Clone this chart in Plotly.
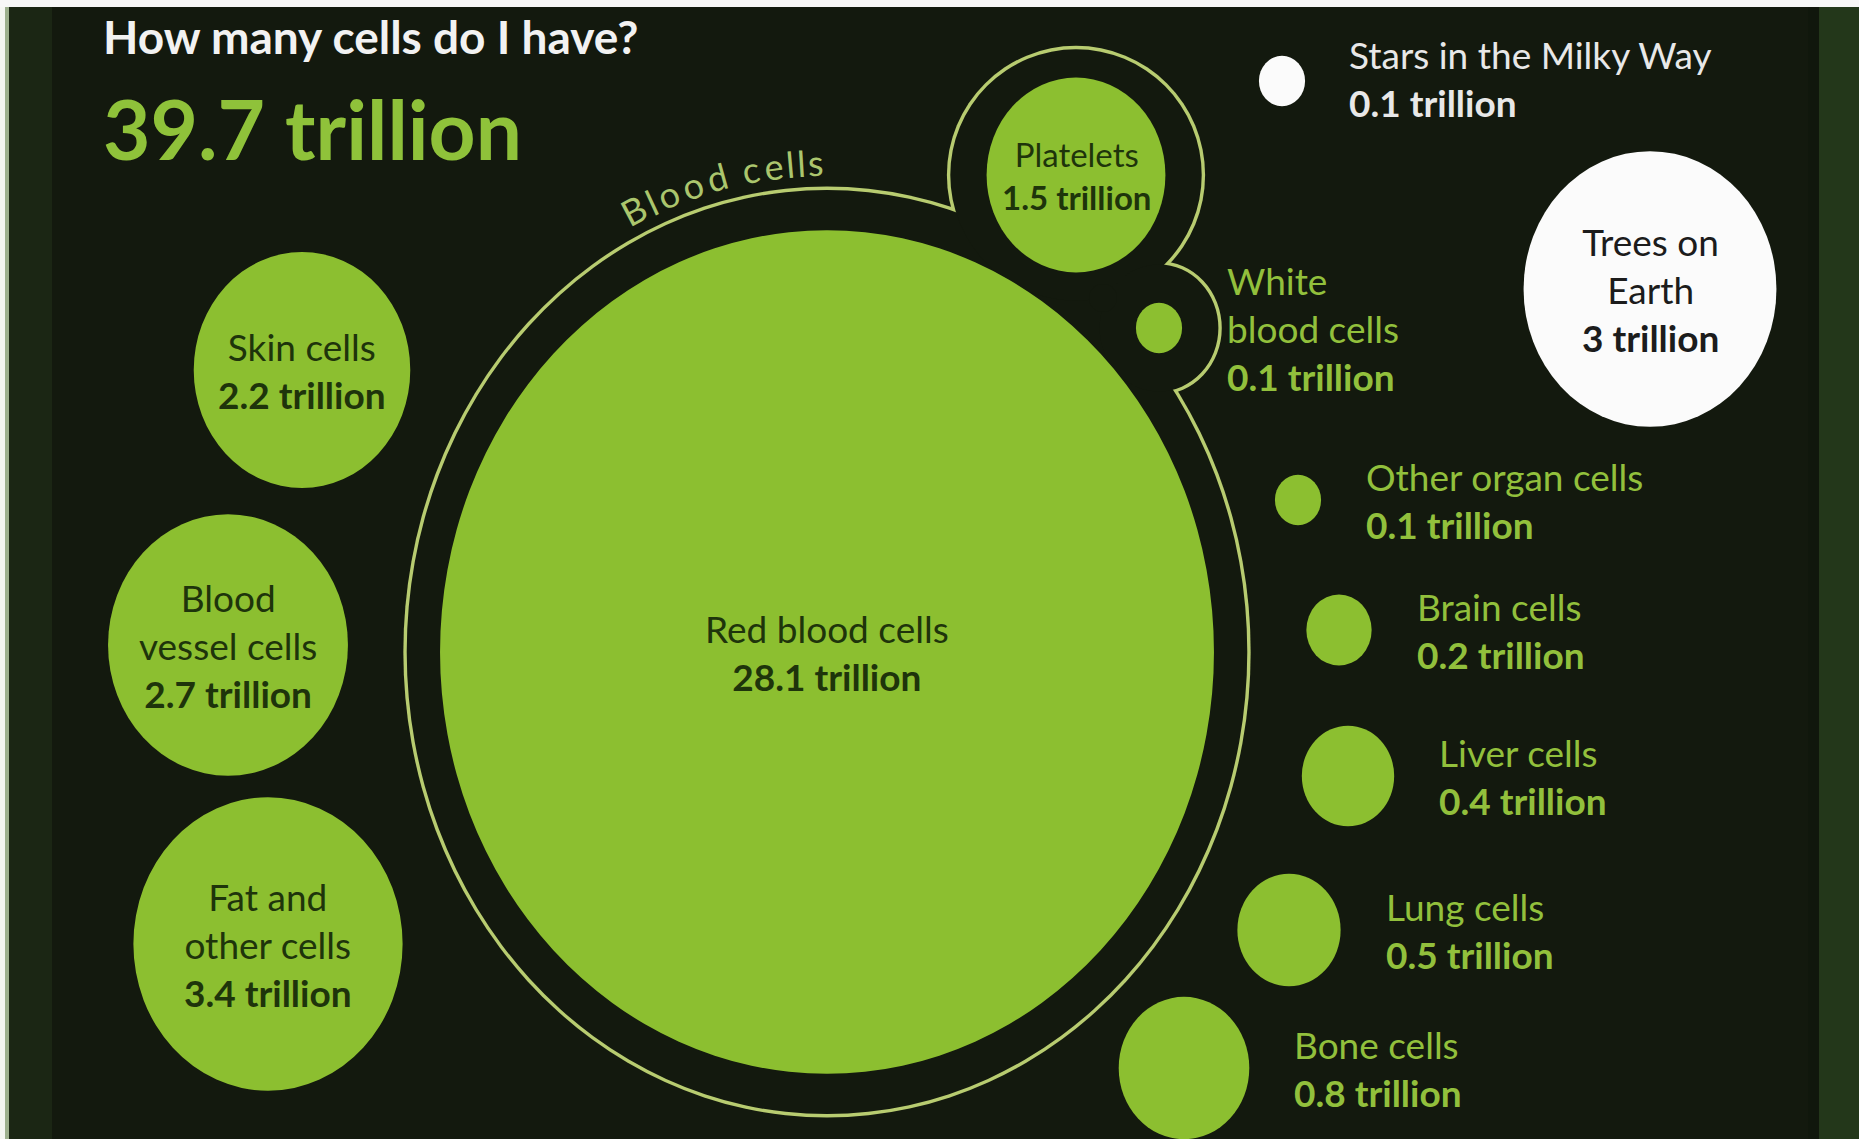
import math
import plotly.graph_objects as go

# ---------------- data ----------------
cell_labels = ["Red blood cells", "Platelets", "White<br>blood cells", "Skin cells",
               "Blood<br>vessel cells", "Fat and<br>other cells", "Other organ cells",
               "Brain cells", "Liver cells", "Lung cells", "Bone cells"]
cell_trillions = [28.1, 1.5, 0.1, 2.2, 2.7, 3.4, 0.1, 0.2, 0.4, 0.5, 0.8]
compare_labels = ["Stars in the Milky Way", "Trees on<br>Earth"]
compare_trillions = [0.1, 3]
total_trillions = 39.7
title_text = "How many cells do I have?"
group_label = "Blood cells"

# ---------------- layout (pixel positions, styles) ----------------
W, H = 1859, 1139
K = 73.0          # px of radius per sqrt(trillion)
ASPECT = 1.09     # vertical stretch of the picture
cell_cx = [827, 1076, 1159, 302, 228, 268, 1298, 1339, 1348, 1289, 1184]
cell_cy = [652, 175, 328, 370, 645, 944, 500, 630, 776, 930, 1068]
cell_label_pos = ["in", "in", "right", "in", "in", "in", "right", "right", "right", "right", "right"]
cmp_cx = [1282, 1650]
cmp_cy = [81, 289]
cmp_label_pos = ["right", "in"]
blood_group = [0, 1, 2]
ring_pad_x = [35, 38, 38]
ring_pad_y = [42, 30, 40]
ring_gap_fill = (1103, 298, 14)   # interior patch where the three rings meet

BG = "#13190e"
GREEN = "#8cbf30"
RING = "#b8cc70"
DARK_TEXT = "#1e340b"
LABEL_GREEN = "#92c03c"
WHITE = "#fbfbfb"
FONT = "Lato"
LABEL_SIZE = 37

shapes = []
annotations = []


def ellipse(cx, cy, rx, ry, color):
    return dict(type="circle", xref="x", yref="y", x0=cx - rx, x1=cx + rx,
                y0=cy - ry, y1=cy + ry, fillcolor=color, line=dict(width=0))


def radius(v):
    return K * math.sqrt(v)


def fmt(v):
    return f"{v:g} trillion"


# frame decorations
shapes.append(dict(type="rect", xref="x", yref="y", x0=9, x1=52, y0=0, y1=H,
                   fillcolor="#1b2614", line=dict(width=0)))
shapes.append(dict(type="rect", xref="x", yref="y", x0=1808, x1=1819, y0=0, y1=H,
                   fillcolor="#10170c", line=dict(width=0)))
shapes.append(dict(type="rect", xref="x", yref="y", x0=1819, x1=W, y0=0, y1=H,
                   fillcolor="#23371a", line=dict(width=0)))
shapes.append(dict(type="rect", xref="x", yref="y", x0=5, x1=9, y0=0, y1=H,
                   fillcolor="#9db08e", line=dict(width=0)))
shapes.append(dict(type="rect", xref="x", yref="y", x0=0, x1=5, y0=0, y1=H,
                   fillcolor="#f4f6f2", line=dict(width=0)))
shapes.append(dict(type="rect", xref="x", yref="y", x0=0, x1=W, y0=0, y1=7,
                   fillcolor="#f7f7f7", line=dict(width=0)))

# blood-cell group outline (union of rings)
LW = 1.7
for i, px, py in zip(blood_group, ring_pad_x, ring_pad_y):
    r = radius(cell_trillions[i])
    shapes.append(ellipse(cell_cx[i], cell_cy[i], r + px + LW, r * ASPECT + py + LW, RING))
for i, px, py in zip(blood_group, ring_pad_x, ring_pad_y):
    r = radius(cell_trillions[i])
    shapes.append(ellipse(cell_cx[i], cell_cy[i], r + px - LW, r * ASPECT + py - LW, BG))
gx, gy, gr = ring_gap_fill
shapes.append(ellipse(gx, gy, gr, gr, BG))

# cell circles
for name, v, cx, cy, pos in zip(cell_labels, cell_trillions, cell_cx, cell_cy, cell_label_pos):
    r = radius(v)
    shapes.append(ellipse(cx, cy, r, r * ASPECT, GREEN))
    text = f"{name}<br><b>{fmt(v)}</b>"
    if pos == "in":
        size = 33 if r < 95 else LABEL_SIZE
        annotations.append(dict(x=cx, y=cy, xref="x", yref="y", text=text, showarrow=False,
                                xanchor="center", yanchor="middle", align="center",
                                font=dict(family=FONT, size=size, color=DARK_TEXT)))
    else:
        annotations.append(dict(x=cx + r + 43, y=cy, xref="x", yref="y", text=text,
                                showarrow=False, xanchor="left", yanchor="middle", align="left",
                                font=dict(family=FONT, size=LABEL_SIZE, color=LABEL_GREEN)))

# comparison circles
for name, v, cx, cy, pos in zip(compare_labels, compare_trillions, cmp_cx, cmp_cy, cmp_label_pos):
    r = radius(v)
    shapes.append(ellipse(cx, cy, r, r * ASPECT, WHITE))
    text = f"{name}<br><b>{fmt(v)}</b>"
    if pos == "in":
        annotations.append(dict(x=cx, y=cy, xref="x", yref="y", text=text, showarrow=False,
                                xanchor="center", yanchor="middle", align="center",
                                font=dict(family=FONT, size=LABEL_SIZE, color="#1c1c1c")))
    else:
        annotations.append(dict(x=cx + r + 42, y=cy - 3, xref="x", yref="y", text=text,
                                showarrow=False, xanchor="left", yanchor="middle", align="left",
                                font=dict(family=FONT, size=LABEL_SIZE, color="#e8e8e8")))

# titles
annotations.append(dict(x=101, y=36, xref="x", yref="y", text=f"<b>{title_text}</b>",
                        showarrow=False, xanchor="left", yanchor="middle",
                        font=dict(family=FONT, size=46, color="#f2f2f2")))
annotations.append(dict(x=101, y=128, xref="x", yref="y", text=f"<b>{total_trillions:g} trillion</b>",
                        showarrow=False, xanchor="left", yanchor="middle",
                        font=dict(family=FONT, size=82, color="#8fc23a")))

# curved "Blood cells" label along the group ring
widths = {"B": .63, "l": .24, "o": .57, "d": .57, " ": .26, "c": .47, "e": .54, "s": .42}
centers, acc = [], 0.0
for ch in group_label:
    w = widths.get(ch, .5)
    centers.append(acc + w / 2)
    acc += w
th0, th1 = math.radians(-25.6), math.radians(-1.4)
red_r = radius(cell_trillions[0])
rtx = red_r + ring_pad_x[0] + 26
rty = red_r * ASPECT + ring_pad_y[0] + 26
for ch, c in zip(group_label, centers):
    if ch == " ":
        continue
    t = (c - centers[0]) / (centers[-1] - centers[0])
    th = th0 + (th1 - th0) * t
    x = cell_cx[0] + rtx * math.sin(th)
    y = cell_cy[0] - rty * math.cos(th)
    ang = math.degrees(math.atan2(rty * math.sin(th), rtx * math.cos(th)))
    annotations.append(dict(x=x, y=y, xref="x", yref="y", text=ch, showarrow=False,
                            textangle=ang, xanchor="center", yanchor="middle",
                            font=dict(family=FONT, size=36, color="#abc66d")))

fig = go.Figure()
fig.update_layout(
    width=W, height=H, margin=dict(l=0, r=0, t=0, b=0),
    paper_bgcolor=BG, plot_bgcolor=BG, showlegend=False,
    xaxis=dict(range=[0, W], visible=False, fixedrange=True),
    yaxis=dict(range=[H, 0], visible=False, fixedrange=True),
    shapes=shapes, annotations=annotations,
)
fig.write_html("out.html")
